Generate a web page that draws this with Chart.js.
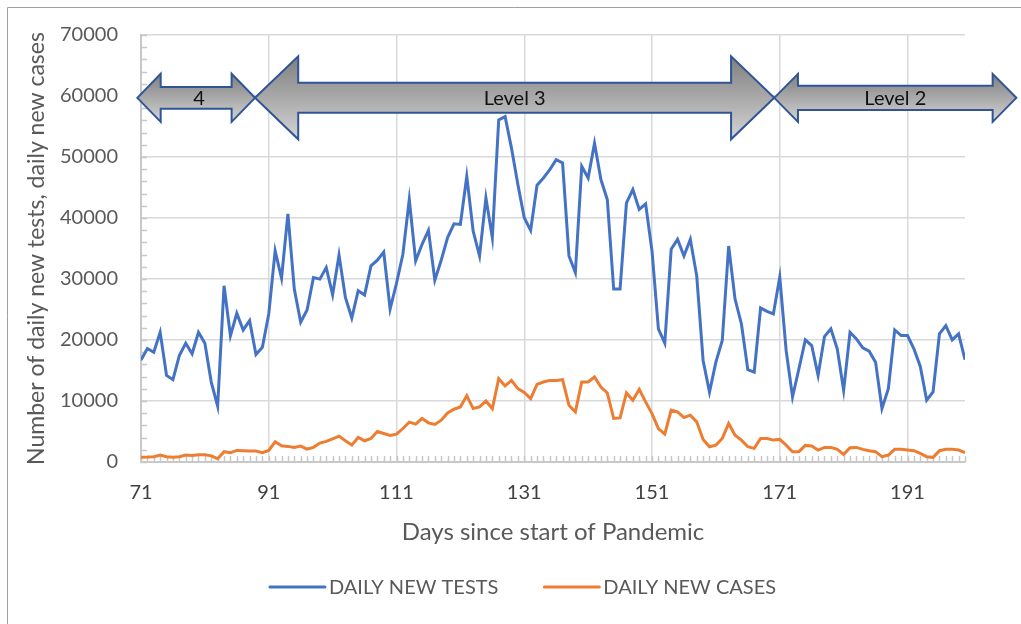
<!DOCTYPE html>
<html lang="en">
<head>
    <meta charset="UTF-8">
    <title>Daily new tests and cases</title>
    <script src="https://cdn.jsdelivr.net/npm/chart.js@4.4.0/dist/chart.umd.min.js"></script>
    <style>
        html, body { margin:0; padding:0; background:#fff; }
        #wrap { width:1021px; height:624px; position:relative; }
    </style>
</head>
<body>
<div id="wrap"><canvas id="myChart" width="1021" height="624"></canvas></div>

<script>
    // days since start of pandemic, one point per day
    const firstDay = 71
    const lastDay = 200
    const xTicks = [71, 91, 111, 131, 151, 171, 191]
    const yTicks = [0, 10000, 20000, 30000, 40000, 50000, 60000, 70000]

    const dailyTests = [
        16700, 18600, 18000, 21270, 14200, 13500, 17460, 19470, 17740, 21270,
        19470, 13100, 9140, 28900, 20700, 24370, 21650, 23170, 17630, 18820,
        24270, 34600, 30140, 40690, 28350, 22900, 24920, 30240, 29980, 31870,
        27420, 33950, 26980, 23610, 28070, 27370, 32150, 33080, 34430, 25080,
        29300, 34060, 43030, 32970, 35690, 37970, 29810, 33080, 36780, 39050,
        38950, 46840, 37860, 33780, 43300, 36780, 56090, 56630, 51460, 45480,
        40040, 37970, 45370, 46560, 47930, 49560, 49010, 33780, 31060, 48470,
        46560, 52270, 46300, 43030, 28350, 28350, 42490, 44670, 41410, 42320,
        34600, 21820, 19470, 34870, 36500, 33780, 36500, 30520, 16650, 11470,
        16370, 19910, 35410, 26710, 22630, 15130, 14740, 25250, 24690, 24270,
        30350, 18280, 10660, 15290, 20020, 19090, 14200, 20560, 21820, 18560,
        11750, 21270, 20190, 18720, 18170, 16370, 8760, 12030, 21650, 20730,
        20730, 18560, 15670, 10120, 11470, 21000, 22360, 20020, 21000, 16760
    ]

    const dailyCases = [
        760, 800, 870, 1140, 870, 760, 870, 1140, 1050, 1200,
        1200, 1000, 540, 1690, 1520, 1900, 1850, 1800, 1800, 1520,
        1900, 3320, 2670, 2560, 2400, 2610, 2120, 2400, 3100, 3370,
        3810, 4240, 3480, 2770, 4030, 3480, 3860, 5000, 4680, 4350,
        4570, 5490, 6530, 6200, 7130, 6420, 6150, 6850, 8050, 8650,
        9030, 10880, 8760, 9030, 10010, 8760, 13660, 12460, 13380, 12030,
        11420, 10390, 12730, 13110, 13380, 13380, 13490, 9300, 8210, 13110,
        13110, 13930, 12290, 11320, 7130, 7230, 11320, 10120, 11910, 9850,
        7940, 5490, 4570, 8490, 8210, 7290, 7670, 6580, 3700, 2500,
        2770, 3860, 6310, 4400, 3590, 2500, 2230, 3860, 3860, 3590,
        3700, 2770, 1690, 1690, 2720, 2610, 1960, 2390, 2390, 2070,
        1250, 2340, 2390, 2070, 1850, 1690, 870, 1140, 2070, 2070,
        1960, 1850, 1410, 870, 760, 1850, 2070, 2070, 1960, 1520
    ]

    // alert level arrows (start day, end day)
    const levelNames = ['4', 'Level 3', 'Level 2']
    const levelStart = [70.42, 88.85, 170.14]
    const levelEnd = [88.85, 170.14, 208.04]

    const blue = '#4472C4'
    const orange = '#ED7D31'
    const grey = '#595959'
    const font = 'Lato, "Open Sans", sans-serif'

    const toPoints = (vals) => vals.map((v, i) => ({x: firstDay + i, y: v}))

    // frame, minor ticks, arrows and legend
    const extras = {
        id: 'extras',
        beforeDraw(chart) {
            const c = chart.ctx
            c.save()
            c.strokeStyle = '#a0a0a0'
            c.lineWidth = 1
            c.beginPath()
            c.moveTo(7.5, 624)
            c.lineTo(7.5, 7.5)
            c.lineTo(1021, 7.5)
            c.stroke()
            c.restore()
        },
        beforeDatasetsDraw(chart) {
            const c = chart.ctx
            const xs = chart.scales.x, ys = chart.scales.y
            const a = chart.chartArea
            c.save()
            c.strokeStyle = '#c8c8c8'
            c.lineWidth = 1.5
            c.beginPath()
            for (let d = firstDay; d <= lastDay; d++) {
                const px = Math.round(xs.getPixelForValue(d)) + 0.5
                c.moveTo(px, a.bottom)
                c.lineTo(px, a.bottom - 6)
            }
            for (let v = 0; v <= 70000; v += 2000) {
                const py = Math.round(ys.getPixelForValue(v)) + 0.5
                c.moveTo(a.left, py)
                c.lineTo(a.left + 6, py)
            }
            c.stroke()
            c.restore()
        },
        afterDraw(chart) {
            const c = chart.ctx
            const xs = chart.scales.x, ys = chart.scales.y
            const cy = ys.getPixelForValue(59700)
            const shapes = [
                {body: 10.8, head: 24, len: 23.4},
                {body: 15, head: 41.5, len: 43.2},
                {body: 12.2, head: 24, len: 23.7}
            ]
            c.save()
            levelNames.forEach((name, i) => {
                const x0 = xs.getPixelForValue(levelStart[i])
                const x1 = xs.getPixelForValue(levelEnd[i])
                const s = shapes[i]
                const g = c.createLinearGradient(0, cy - s.head, 0, cy + s.head)
                g.addColorStop(0, '#7f7f7f')
                g.addColorStop(1, '#d4d4d4')
                c.beginPath()
                c.moveTo(x0, cy)
                c.lineTo(x0 + s.len, cy - s.head)
                c.lineTo(x0 + s.len, cy - s.body)
                c.lineTo(x1 - s.len, cy - s.body)
                c.lineTo(x1 - s.len, cy - s.head)
                c.lineTo(x1, cy)
                c.lineTo(x1 - s.len, cy + s.head)
                c.lineTo(x1 - s.len, cy + s.body)
                c.lineTo(x0 + s.len, cy + s.body)
                c.lineTo(x0 + s.len, cy + s.head)
                c.closePath()
                c.fillStyle = g
                c.fill()
                c.strokeStyle = '#2F5597'
                c.lineWidth = 2
                c.lineJoin = 'miter'
                c.stroke()
                c.fillStyle = '#111'
                c.font = '20px ' + font
                c.textAlign = 'center'
                c.textBaseline = 'middle'
                c.fillText(name, (x0 + x1) / 2 + (i === 0 ? 3 : 0), cy + 1)
            })

            // legend
            c.font = '20px ' + font
            c.textBaseline = 'middle'
            c.textAlign = 'left'
            const items = chart.data.datasets
            const lineLen = 55, gap = 4, itemGap = 46
            const widths = items.map(ds => c.measureText(ds.label).width)
            const total = items.length * (lineLen + gap) + widths.reduce((p, w) => p + w, 0) + itemGap
            let lx = 523 - total / 2
            const ly = 587
            items.forEach((ds, i) => {
                c.strokeStyle = ds.borderColor
                c.lineWidth = 3
                c.lineCap = 'round'
                c.beginPath()
                c.moveTo(lx, ly)
                c.lineTo(lx + lineLen, ly)
                c.stroke()
                c.fillStyle = grey
                c.fillText(ds.label, lx + lineLen + gap, ly + 1)
                lx += lineLen + gap + widths[i] + itemGap
            })
            c.restore()
        }
    }

    const ctx = document.getElementById('myChart').getContext('2d')
    const myChart = new Chart(ctx, {
        type: 'line',
        data: {
            datasets: [{
                label: 'DAILY NEW TESTS',
                data: toPoints(dailyTests),
                borderColor: blue,
                borderWidth: 3,
                pointRadius: 0,
                tension: 0
            }, {
                label: 'DAILY NEW CASES',
                data: toPoints(dailyCases),
                borderColor: orange,
                borderWidth: 3,
                pointRadius: 0,
                tension: 0
            }]
        },
        options: {
            responsive: false,
            animation: false,
            layout: { padding: { top: 33, right: 56, left: 0, bottom: 0 } },
            plugins: {
                legend: { display: false },
                tooltip: { enabled: false }
            },
            scales: {
                x: {
                    type: 'linear',
                    min: firstDay,
                    max: lastDay,
                    afterBuildTicks: (s) => { s.ticks = xTicks.map(v => ({value: v})) },
                    afterFit: (s) => { s.height = 624 - 462 },
                    grid: { color: '#d9d9d9', lineWidth: 1.5, drawTicks: false },
                    border: { color: '#c8c8c8', width: 2 },
                    ticks: {
                        color: '#404040', padding: 19, maxRotation: 0,
                        font: { family: font, size: 20 },
                        callback: (v) => String(v)
                    },
                    title: {
                        display: true,
                        text: 'Days since start of Pandemic',
                        color: grey,
                        font: { family: font, size: 24 },
                        padding: { top: 0, bottom: 77.6 }
                    }
                },
                y: {
                    min: 0,
                    max: 70000,
                    afterBuildTicks: (s) => { s.ticks = yTicks.map(v => ({value: v})) },
                    afterFit: (s) => { s.width = 141 },
                    grid: { color: '#d9d9d9', lineWidth: 1.5, drawTicks: false },
                    border: { color: '#c8c8c8', width: 2 },
                    ticks: {
                        color: grey, padding: 23,
                        font: { family: font, size: 20 },
                        callback: (v) => String(v)
                    },
                    title: {
                        display: true,
                        text: 'Number of daily new tests, daily new cases',
                        color: grey,
                        font: { family: font, size: 23 },
                        padding: { top: 23, bottom: 0 }
                    }
                }
            }
        },
        plugins: [extras]
    })
</script>
</body>
</html>
